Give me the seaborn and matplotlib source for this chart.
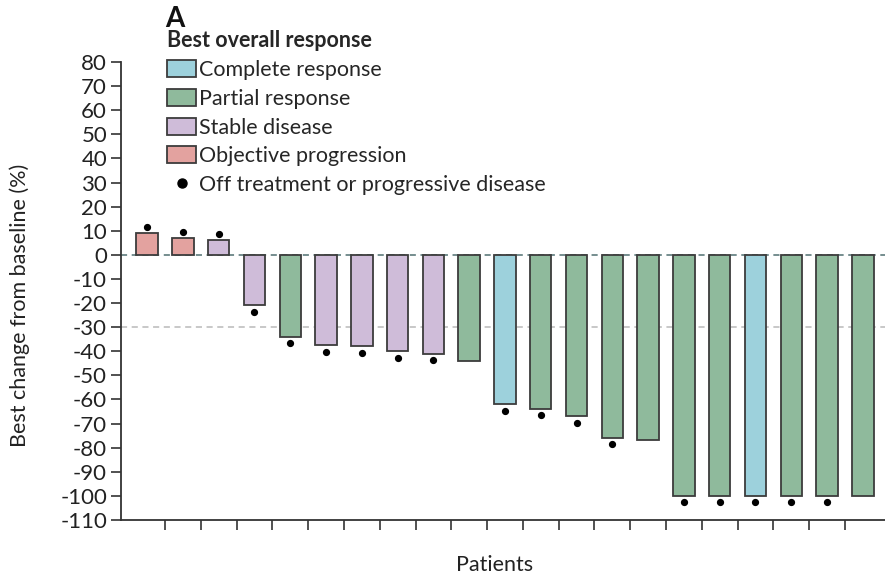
import matplotlib
matplotlib.use("Agg")
import matplotlib.pyplot as plt
import seaborn as sns
import pandas as pd
import numpy as np
from matplotlib.patches import Patch
from matplotlib.lines import Line2D

# Best percentage change from baseline per patient, ordered as a waterfall
patients = list(range(1, 22))
change = [9, 7, 6, -21, -34, -37.5, -38, -40, -41, -44, -62, -64, -67,
          -76, -77, -100, -100, -100, -100, -100, -100]
response = ["Objective progression", "Objective progression", "Stable disease",
            "Stable disease", "Partial response", "Stable disease", "Stable disease",
            "Stable disease", "Stable disease", "Partial response", "Complete response",
            "Partial response", "Partial response", "Partial response", "Partial response",
            "Partial response", "Partial response", "Complete response", "Partial response",
            "Partial response", "Partial response"]
off_treatment = [1, 1, 1, 1, 1, 1, 1, 1, 1, 0, 1, 1, 1, 1, 0, 1, 1, 1, 1, 1, 0]

categories = ["Complete response", "Partial response", "Stable disease",
              "Objective progression"]
colors = ["#9dd1dc", "#8fba9c", "#cfbcd9", "#e3a29f"]
y_ticks = list(range(80, -111, -10))

sns.set_style("ticks")
plt.rcParams["font.family"] = ["Lato", "DejaVu Sans"]

df = pd.DataFrame({"patient": patients, "change": change,
                   "response": response, "off": off_treatment})
df["pos"] = np.arange(len(df))

fig = plt.figure(figsize=(8.85, 5.77), dpi=100)
ax = fig.add_axes([121 / 885, 1 - 520 / 577, 1 - 121 / 885, (520 - 62) / 577])

edge = "#3c3c3c"
sns.barplot(data=df, x="patient", y="change", hue="response", order=patients,
            hue_order=categories, palette=dict(zip(categories, colors)),
            saturation=1, dodge=False, width=0.6, edgecolor=edge, linewidth=1.3,
            legend=False, ax=ax, zorder=3)

# reference lines
ax.axhline(0, color="#4f6f70", lw=1.1, ls=(0, (4, 3)), zorder=2)
ax.axhline(-30, color="#b9b9b9", lw=1.1, ls=(0, (4, 3)), zorder=1)

# markers for patients off treatment
offs = df[df["off"] == 1]
dot_y = offs["change"] + np.sign(offs["change"]) * 2.6
ax.plot(offs["pos"], dot_y, "o", color="black", ms=4.2, zorder=4)

ax.set_ylim(-110, 80)
ax.set_xlim(-0.73, 20.62)
ax.set_yticks(y_ticks)
ax.set_yticklabels([str(v) for v in y_ticks])
ax.set_xticks(np.arange(0.5, 20, 1.0))
ax.set_xticklabels([])
ax.tick_params(axis="both", direction="out", length=7, width=1.2, color="#333333",
               labelsize=16, labelcolor="#222222", pad=3)
for side in ("top", "right"):
    ax.spines[side].set_visible(False)
for side in ("left", "bottom"):
    ax.spines[side].set_linewidth(1.3)
    ax.spines[side].set_color("#333333")

ax.set_xlabel("")
ax.set_ylabel("")
fig.text(20 / 885, 1 - 305 / 577, "Best change from baseline (%)", rotation=90,
         ha="center", va="center", fontsize=15.5, color="#222222")
fig.text(495 / 885, 1 - 565 / 577, "Patients", ha="center", va="center",
         fontsize=15.5, color="#222222")
fig.text(165 / 885, 1 - 19 / 577, "A", ha="left", va="center", fontsize=20,
         fontweight="bold", color="#111111")

handles = [Patch(facecolor=c, edgecolor=edge, linewidth=1.3) for c in colors]
handles.append(Line2D([], [], marker="o", ls="", color="black", ms=6.5))
labels = categories + ["Off treatment or progressive disease"]
leg = fig.legend(handles, labels, loc="upper left",
                 bbox_to_anchor=(152 / 885, 1 - 15 / 577), frameon=False,
                 title="Best overall response", alignment="left",
                 fontsize=15.5, title_fontproperties={"weight": "bold", "size": 15.5},
                 handlelength=1.35, handleheight=0.84, handletextpad=0.12,
                 labelspacing=0.41, borderpad=0.2)

fig.savefig("out.png", dpi=100)
